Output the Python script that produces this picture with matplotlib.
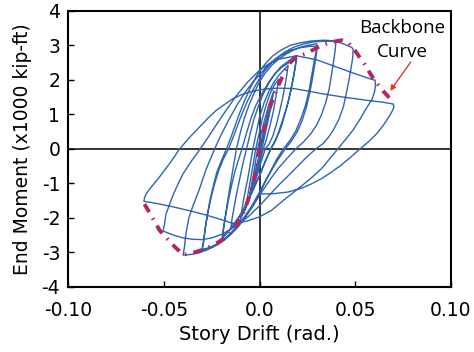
import matplotlib
matplotlib.use("Agg")
import matplotlib.pyplot as plt

plt.rcParams['font.family'] = ['DejaVu Sans']
plt.rcParams['axes.unicode_minus'] = False

# ---- hysteresis path, branch by branch ----
drift = [
    # 0 -> +0.005 -> -0.005
    0.0, 0.0025, 0.005,
    0.0035, 0.0006, -0.0022, -0.005,
    # +0.0075 / -0.0075
    -0.0035, -0.001, 0.0022, 0.005, 0.0075,
    0.006, 0.0012, -0.0022, -0.005, -0.0075,
    # +0.01 / -0.01
    -0.0068, -0.006, -0.0045, -0.0032, -0.002, 0.0, 0.0015, 0.0035, 0.0055, 0.0078, 0.01,
    0.0093, 0.0085, 0.0072, 0.0055, 0.0038, 0.002, 0.0, -0.002, -0.004, -0.006, -0.008, -0.01,
    # +0.015 / -0.015
    -0.0093, -0.0085, -0.0074, -0.0062, -0.0048, -0.0035, -0.0018, 0.0, 0.0025, 0.005, 0.0075, 0.01, 0.0125, 0.015,
    0.0143, 0.0133, 0.012, 0.0105, 0.0088, 0.007, 0.005, 0.003, 0.001, -0.001, -0.0035, -0.006, -0.0085, -0.0105, -0.013, -0.015,
    # +0.02 / -0.02
    -0.0143, -0.0133, -0.012, -0.0105, -0.0088, -0.0068, -0.005, -0.003, -0.0005, 0.002, 0.005, 0.008, 0.011, 0.014, 0.017, 0.0194,
    0.0188, 0.0178, 0.0165, 0.015, 0.013, 0.011, 0.0085, 0.006, 0.003, 0.0005, -0.0025, -0.005, -0.008, -0.011, -0.0135, -0.016, -0.018, -0.0195,
    # second cycle at 0.02
    -0.0188, -0.0178, -0.0165, -0.015, -0.0132, -0.0112, -0.0092, -0.007, -0.0045, -0.002, 0.0015, 0.005, 0.0085, 0.012, 0.016, 0.0194,
    0.0187, 0.0175, 0.016, 0.0142, 0.012, 0.0098, 0.0077, 0.0058, 0.003, 0.0, -0.003, -0.006, -0.009, -0.012, -0.015, -0.0175, -0.0195,
    # +0.03 / -0.03
    -0.019, -0.018, -0.0168, -0.0155, -0.014, -0.0121, -0.01, -0.008, -0.0055, -0.003, 0.0, 0.003, 0.0065, 0.01, 0.014, 0.018, 0.0215, 0.025, 0.028, 0.03,
    0.0297, 0.0285, 0.0272, 0.026, 0.024, 0.0215, 0.019, 0.016, 0.0125, 0.009, 0.006, 0.003, 0.0, -0.0035, -0.007, -0.011, -0.015, -0.0185, -0.022, -0.026, -0.03,
    # second cycle at 0.03
    -0.0292, -0.0282, -0.027, -0.0255, -0.0237, -0.0215, -0.019, -0.0162, -0.013, -0.01, -0.007, -0.004, -0.001, 0.0025, 0.0065, 0.011, 0.016, 0.021, 0.026, 0.0302,
    0.0298, 0.0288, 0.0276, 0.0262, 0.0245, 0.0222, 0.0196, 0.0166, 0.0135, 0.0098, 0.0065, 0.0032, 0.0, -0.0035, -0.0072, -0.011, -0.015, -0.0188, -0.0225, -0.0262, -0.0302,
    # +0.04 / -0.04
    -0.0293, -0.0285, -0.0273, -0.026, -0.0243, -0.0225, -0.02, -0.0173, -0.014, -0.011, -0.008, -0.005, -0.0025, 0.0, 0.0035, 0.007, 0.0115, 0.016, 0.021, 0.026, 0.03, 0.034, 0.037, 0.04,
    0.0397, 0.0388, 0.0377, 0.0365, 0.0347, 0.0325, 0.03, 0.027, 0.023, 0.019, 0.0145, 0.01, 0.005, 0.0, -0.004, -0.008, -0.012, -0.016, -0.02, -0.024, -0.028, -0.032, -0.036, -0.04,
    # +0.05 / -0.05
    -0.0393, -0.0385, -0.037, -0.0345, -0.032, -0.028, -0.0235, -0.02, -0.016, -0.012, -0.008, -0.004, 0.0, 0.004, 0.008, 0.013, 0.018, 0.023, 0.028, 0.033, 0.038, 0.042, 0.045, 0.048, 0.049,
    0.0488, 0.0478, 0.0465, 0.0452, 0.0439, 0.0415, 0.0386, 0.036, 0.0334, 0.0295, 0.025, 0.02, 0.015, 0.01, 0.005, 0.0, -0.005, -0.01, -0.015, -0.02, -0.025, -0.03, -0.035, -0.04, -0.045, -0.0505,
    # +0.06 / -0.06
    -0.0498, -0.049, -0.047, -0.0453, -0.0425, -0.04, -0.0355, -0.031, -0.0265, -0.022, -0.017, -0.012, -0.006, 0.0, 0.005, 0.01, 0.0194, 0.03, 0.04, 0.05, 0.0585, 0.0605,
    0.0607, 0.0602, 0.059, 0.0553, 0.0525, 0.049, 0.045, 0.041, 0.0365, 0.0325, 0.0265, 0.0203, 0.013, 0.0063, 0.0, -0.007, -0.0139, -0.02, -0.0278, -0.036, -0.0453, -0.054, -0.0605,
    # +0.07 / final unloading
    -0.0602, -0.0595, -0.058, -0.0555, -0.0523, -0.047, -0.0418, -0.0365, -0.0313, -0.027, -0.0226, -0.018, -0.0138, -0.0095, -0.0051, 0.0, 0.0037, 0.01, 0.0177, 0.025, 0.0317, 0.044, 0.0561, 0.065, 0.0701,
    0.0703, 0.0695, 0.068, 0.065, 0.0615, 0.0575, 0.0526, 0.0475, 0.0425, 0.0375, 0.0325, 0.027, 0.022, 0.015, 0.007, 0.0,
]
moment = [
    0.0, 0.62, 1.15,
    0.72, 0.0, -0.65, -1.3,
    -0.85, 0.0, 0.75, 1.3, 1.68,
    1.2, 0.0, -0.75, -1.35, -1.78,
    -1.55, -1.3, -0.82, -0.4, 0.0, 0.5, 0.88, 1.28, 1.6, 1.85, 2.02,
    1.75, 1.48, 1.08, 0.68, 0.32, 0.0, -0.4, -0.8, -1.18, -1.52, -1.8, -2.05,
    -1.8, -1.52, -1.2, -0.88, -0.42, 0.0, 0.45, 0.92, 1.35, 1.68, 1.93, 2.12, 2.28, 2.42,
    2.15, 1.82, 1.45, 1.08, 0.7, 0.38, 0.14, 0.0, -0.35, -0.72, -1.12, -1.48, -1.78, -1.97, -2.15, -2.28,
    -2.0, -1.7, -1.3, -0.9, -0.45, 0.0, 0.42, 0.85, 1.25, 1.6, 1.92, 2.18, 2.37, 2.5, 2.62, 2.7,
    2.45, 2.1, 1.72, 1.35, 0.95, 0.58, 0.26, 0.0, -0.35, -0.7, -1.06, -1.38, -1.72, -2.0, -2.2, -2.38, -2.5, -2.6,
    -2.3, -1.95, -1.55, -1.15, -0.72, -0.35, 0.0, 0.42, 0.88, 1.25, 1.62, 1.95, 2.2, 2.38, 2.52, 2.62,
    2.35, 2.0, 1.6, 1.2, 0.82, 0.45, 0.18, 0.0, -0.38, -0.78, -1.15, -1.5, -1.82, -2.08, -2.3, -2.45, -2.55,
    -2.35, -2.0, -1.55, -1.1, -0.62, 0.0, 0.48, 0.88, 1.27, 1.6, 1.95, 2.2, 2.43, 2.6, 2.75, 2.87, 2.95, 3.0, 3.03, 3.05,
    2.85, 2.5, 2.1, 1.7, 1.25, 0.85, 0.52, 0.25, 0.0, -0.3, -0.62, -0.95, -1.3, -1.65, -1.95, -2.25, -2.48, -2.65, -2.78, -2.88, -2.95,
    -2.65, -2.25, -1.85, -1.45, -1.05, -0.65, -0.3, 0.0, 0.45, 0.9, 1.3, 1.65, 1.95, 2.25, 2.5, 2.7, 2.85, 2.93, 2.97, 2.98,
    2.75, 2.4, 2.0, 1.6, 1.2, 0.8, 0.48, 0.22, 0.0, -0.3, -0.6, -0.92, -1.25, -1.6, -1.92, -2.2, -2.45, -2.63, -2.76, -2.86, -2.92,
    -2.7, -2.3, -1.9, -1.5, -1.1, -0.7, -0.35, 0.0, 0.48, 0.95, 1.37, 1.75, 2.02, 2.25, 2.5, 2.7, 2.87, 3.0, 3.07, 3.12, 3.14, 3.15, 3.14, 3.12,
    2.9, 2.55, 2.15, 1.75, 1.35, 1.0, 0.7, 0.45, 0.2, 0.0, -0.27, -0.55, -0.93, -1.35, -1.7, -2.0, -2.27, -2.5, -2.68, -2.83, -2.94, -3.02, -3.06, -3.08,
    -2.85, -2.45, -2.0, -1.6, -1.25, -0.6, 0.0, 0.42, 0.85, 1.25, 1.6, 1.9, 2.15, 2.4, 2.6, 2.8, 2.95, 3.04, 3.1, 3.12, 3.12, 3.08, 3.02, 2.95, 2.9,
    2.65, 2.3, 1.9, 1.55, 1.22, 0.85, 0.54, 0.33, 0.16, 0.0, -0.22, -0.5, -0.78, -1.05, -1.35, -1.65, -1.92, -2.15, -2.33, -2.48, -2.58, -2.63, -2.62, -2.58, -2.5, -2.38,
    -2.2, -1.9, -1.6, -1.34, -1.0, -0.72, -0.34, 0.0, 0.37, 0.75, 1.16, 1.55, 1.95, 2.28, 2.47, 2.6, 2.7, 2.58, 2.38, 2.18, 2.02, 1.99,
    1.85, 1.65, 1.45, 1.12, 0.85, 0.55, 0.27, 0.0, -0.3, -0.57, -0.87, -1.15, -1.47, -1.78, -1.97, -2.1, -2.16, -2.05, -1.92, -1.8, -1.68, -1.58, -1.52,
    -1.42, -1.32, -1.2, -1.03, -0.81, -0.42, 0.0, 0.34, 0.64, 0.89, 1.12, 1.3, 1.46, 1.57, 1.65, 1.71, 1.74, 1.76, 1.75, 1.68, 1.61, 1.5, 1.41, 1.35, 1.3,
    1.2, 1.1, 0.95, 0.7, 0.45, 0.23, 0.0, -0.25, -0.48, -0.68, -0.86, -1.02, -1.14, -1.25, -1.3, -1.31,
]

# ---- backbone curve ----
bb_drift = [-0.0602, -0.056, -0.0523, -0.046, -0.040, -0.034, -0.0278, -0.022, -0.0173,
            -0.013, -0.0086, -0.0051, -0.0025, 0.0, 0.0025, 0.0054, 0.008, 0.0107, 0.015,
            0.0194, 0.0238, 0.0325, 0.038, 0.043, 0.0465, 0.05, 0.055, 0.0596, 0.064, 0.069]
bb_moment = [-1.6, -2.0, -2.36, -2.75, -3.07, -3.0, -2.89, -2.72, -2.55,
             -2.3, -1.87, -1.35, -0.8, 0.0, 0.6, 1.2, 1.6, 1.94, 2.45,
             2.67, 2.75, 3.0, 3.1, 3.15, 3.08, 2.85, 2.45, 2.04, 1.72, 1.42]

fig = plt.figure(figsize=(4.74, 3.52), dpi=100)
ax = fig.add_axes([0.1445, 0.185, 0.806, 0.784])

ax.axhline(0, color='black', lw=1.1, zorder=1)
ax.axvline(0, color='black', lw=1.1, zorder=1)
ax.plot(drift, moment, color='#2E64B4', lw=1.0, zorder=2)
ax.plot(bb_drift, bb_moment, color='#B3275E', lw=2.8,
        ls=(0, (2.4, 1.8, 0.4, 1.8)), zorder=3)

ax.set_xlim(-0.10, 0.10)
ax.set_ylim(-4, 4)
ax.set_xticks([-0.10, -0.05, 0.0, 0.05, 0.10])
ax.set_xticklabels(['-0.10', '-0.05', '0.0', '0.05', '0.10'])
ax.set_yticks(range(-4, 5))
ax.tick_params(direction='in', length=4, width=1, labelsize=13.5, pad=6)
ax.tick_params(axis='x', pad=10)
for s in ax.spines.values():
    s.set_linewidth(1.5)

ax.set_xlabel('Story Drift (rad.)', fontsize=14, labelpad=4)
ax.set_ylabel('End Moment (x1000 kip-ft)', fontsize=13.5, labelpad=7)

ax.text(0.0749, 3.16, 'Backbone\nCurve', family=['Open Sans', 'DejaVu Sans'],
        fontsize=13.5, ha='center', va='center', linespacing=1.45)
ax.annotate('', xy=(0.0684, 1.68), xytext=(0.0792, 2.52),
            arrowprops=dict(arrowstyle='-|>', color='#E5352B', lw=1.0,
                            mutation_scale=8, shrinkA=0, shrinkB=0))

fig.savefig('out.png', dpi=100)
